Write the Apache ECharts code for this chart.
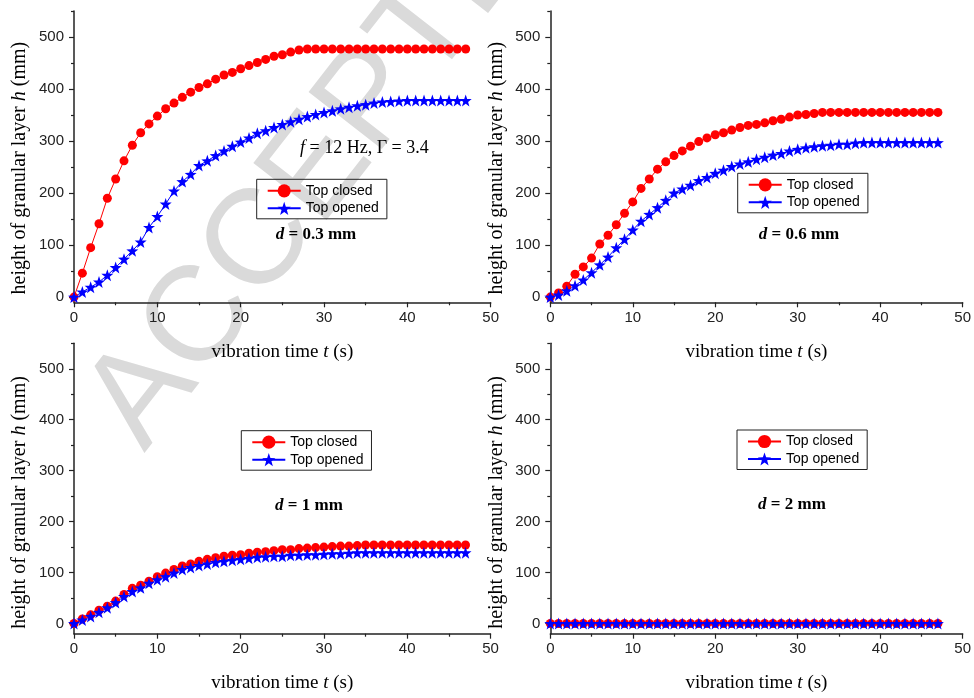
<!DOCTYPE html>
<html>
<head>
<meta charset="utf-8">
<script src="https://cdn.jsdelivr.net/npm/echarts@6/dist/echarts.min.js"></script>
<style>html,body{margin:0;padding:0;background:#fff}#c{width:974px;height:698px}</style>
</head>
<body>
<div id="c"></div>
<script>
// ---------- data ----------
const time = [0,1,2,3,4,5,6,7,8,9,10,11,12,13,14,15,16,17,18,19,20,21,22,23,24,25,26,27,28,29,30,31,32,33,34,35,36,37,38,39,40,41,42,43,44,45,46,47];
const closed03 = [0,46,95,141,190,227,262,292,316,333,348,362,373,384,394,403,410,419,427,432,439,445,451,457,463,466,471,475,477,477,477,477,477,477,477,477,477,477,477,477,477,477,477,477,477,477,477,477];
const opened03 = [0,10,19,29,42,57,73,89,106,134,155,179,204,222,236,253,262,272,281,290,298,306,315,320,326,332,337,342,347,351,355,358,362,365,368,370,373,375,376,377,378,378,378,378,378,378,378,378];
const closed06 = [0,8,21,44,58,75,102,119,139,161,183,209,227,246,260,272,281,290,299,306,312,316,321,326,330,332,335,339,342,346,350,351,353,355,355,355,355,355,355,355,355,355,355,355,355,355,355,355];
const opened06 = [0,4,12,22,33,47,62,77,95,111,129,146,159,172,186,200,208,215,224,230,238,244,251,256,260,265,269,273,276,281,284,287,289,291,292,294,294,296,297,297,297,297,297,297,297,297,297,297];
const closed1 = [0,9,17,26,34,44,57,69,75,83,92,99,106,113,117,122,126,129,132,134,135,138,140,141,143,145,145,147,148,149,150,151,152,152,153,154,154,154,154,154,154,154,154,154,154,154,154,154];
const opened1 = [0,7,14,22,31,41,53,63,70,79,86,92,99,106,110,114,117,120,122,124,126,128,130,131,132,132,134,134,135,135,136,137,137,138,139,139,139,139,139,139,139,139,139,139,139,139,139,139];
const closed2 = [0,0,0,0,0,0,0,0,0,0,0,0,0,0,0,0,0,0,0,0,0,0,0,0,0,0,0,0,0,0,0,0,0,0,0,0,0,0,0,0,0,0,0,0,0,0,0,0];
const opened2 = [0,0,0,0,0,0,0,0,0,0,0,0,0,0,0,0,0,0,0,0,0,0,0,0,0,0,0,0,0,0,0,0,0,0,0,0,0,0,0,0,0,0,0,0,0,0,0,0];
const yTicks = [0,100,200,300,400,500];
const yMinorTicks = [50,150,250,350,450,550];
const seriesNames = ['Top closed','Top opened'];
const panelLabels = ['0.3 mm','0.6 mm','1 mm','2 mm'];
const condition = '12 Hz, \u0393 = 3.4';

// ---------- layout ----------
const grids = [
  {left:74, top:11, width:416.7, height:291.3, ymin:-10, legend:[256.7,179.3], dlabel:[316,235], nameShift:23},
  {left:550.3, top:11, width:415.7, height:291.3, ymin:-10, legend:[737.7,173.3], dlabel:[799,235], nameShift:23},
  {left:74, top:343.3, width:416.5, height:290.4, ymin:-20, legend:[241.3,430.7], dlabel:[309,505.5], nameShift:28},
  {left:550.3, top:343.3, width:415.7, height:290.4, ymin:-20, legend:[737,430], dlabel:[792,505], nameShift:28}
];
const panelData = [[closed03,opened03],[closed06,opened06],[closed1,opened1],[closed2,opened2]];

const AX = '#222';
const sans = '"Liberation Sans", Arial, sans-serif';
const serif = '"Liberation Serif", "Times New Roman", serif';

const option = {
  animation:false,
  backgroundColor:'#fff',
  grid:[], xAxis:[], yAxis:[], series:[], legend:[], graphic:[]
};

// watermark
option.graphic.push({
  type:'text', x:168, y:472, rotation:52*Math.PI/180, z:-10, silent:true,
  style:{text:'ACCEPTED MANUSCRIPT', font:'135px '+sans, fill:'#dadada', textAlign:'left', textVerticalAlign:'bottom'}
});

grids.forEach((g,i)=>{
  option.grid.push({left:g.left, top:g.top, width:g.width, height:g.height, containLabel:false});
  option.xAxis.push({
    type:'value', gridIndex:i, min:0, max:50, interval:10,
    name:'vibration time {i|t} (s)', nameLocation:'middle', nameGap:40,
    nameTextStyle:{fontFamily:serif, fontSize:19, color:'#000', rich:{i:{fontFamily:serif, fontSize:19, fontStyle:'italic', color:'#000'}}},
    axisLine:{show:true, onZero:false, lineStyle:{color:AX, width:1.5}},
    axisTick:{show:true, length:5, lineStyle:{color:AX, width:1.2}},
    minorTick:{show:true, splitNumber:2, length:3, lineStyle:{color:AX, width:1.2}},
    axisLabel:{fontFamily:sans, fontSize:15, color:AX, margin:8},
    splitLine:{show:false}
  });
  option.yAxis.push({
    type:'value', gridIndex:i, min:g.ymin, max:550,
    name:'height of granular layer {i|h} (mm)', nameLocation:'middle', nameGap:44,
    nameTextStyle:{fontFamily:serif, fontSize:20, color:'#000', padding:[0,g.nameShift,0,0],
      rich:{i:{fontFamily:serif, fontSize:20, fontStyle:'italic', color:'#000'}}},
    axisLine:{show:true, onZero:false, lineStyle:{color:AX, width:1.5}},
    axisTick:{show:true, length:5, customValues:yTicks, lineStyle:{color:AX, width:1.2}},
    axisLabel:{fontFamily:sans, fontSize:15, color:AX, margin:10, customValues:yTicks},
    splitLine:{show:false}
  });
  // minor ticks axis
  option.yAxis.push({
    type:'value', gridIndex:i, min:g.ymin, max:550, position:'left',
    axisLine:{show:false}, axisLabel:{show:false}, splitLine:{show:false},
    axisTick:{show:true, length:3, customValues:yMinorTicks, lineStyle:{color:AX, width:1.2}}
  });
  const [c,o] = panelData[i];
  option.series.push({
    name:seriesNames[0], type:'line', xAxisIndex:i, yAxisIndex:2*i,
    data:time.map((t,k)=>[t,c[k]]),
    symbol:'circle', symbolSize:9, clip:false,
    lineStyle:{color:'#ff0000', width:1}, itemStyle:{color:'#ff0000'}
  });
  option.series.push({
    name:seriesNames[1], type:'line', xAxisIndex:i, yAxisIndex:2*i,
    data:time.map((t,k)=>[t,o[k]]),
    symbol:'path://M0,-10 L2.35,-3.24 L9.51,-3.09 L3.8,1.24 L5.88,8.09 L0,4 L-5.88,8.09 L-3.8,1.24 L-9.51,-3.09 L-2.35,-3.24 Z',
    symbolSize:12, clip:false,
    lineStyle:{color:'#0000ff', width:1}, itemStyle:{color:'#0000ff'}
  });
  option.legend.push({
    orient:'vertical', left:g.legend[0], top:g.legend[1],
    data:seriesNames, selectedMode:false,
    itemWidth:33, itemHeight:16.5, itemGap:3.5,
    padding:[4.5,8,3.5,10], borderColor:'#222', borderWidth:1,
    textStyle:{fontFamily:sans, fontSize:14, color:'#000'}
  });
  option.graphic.push({
    type:'text', x:g.dlabel[0], y:g.dlabel[1], silent:true,
    style:{text:'{i|d} = '+panelLabels[i], font:'bold 17px '+serif, fill:'#000', textAlign:'center', textVerticalAlign:'middle',
      rich:{i:{fontFamily:serif, fontSize:17, fontWeight:'bold', fontStyle:'italic', fill:'#000'}}}
  });
});

option.graphic.push({
  type:'text', x:300, y:148, silent:true,
  style:{text:'{i|f} = '+condition, font:'18px '+serif, fill:'#000', textAlign:'left', textVerticalAlign:'middle',
    rich:{i:{fontFamily:serif, fontSize:18, fontStyle:'italic', fill:'#000'}}}
});

const chart = echarts.init(document.getElementById('c'), null, {renderer:'canvas'});
chart.setOption(option);
</script>
</body>
</html>
